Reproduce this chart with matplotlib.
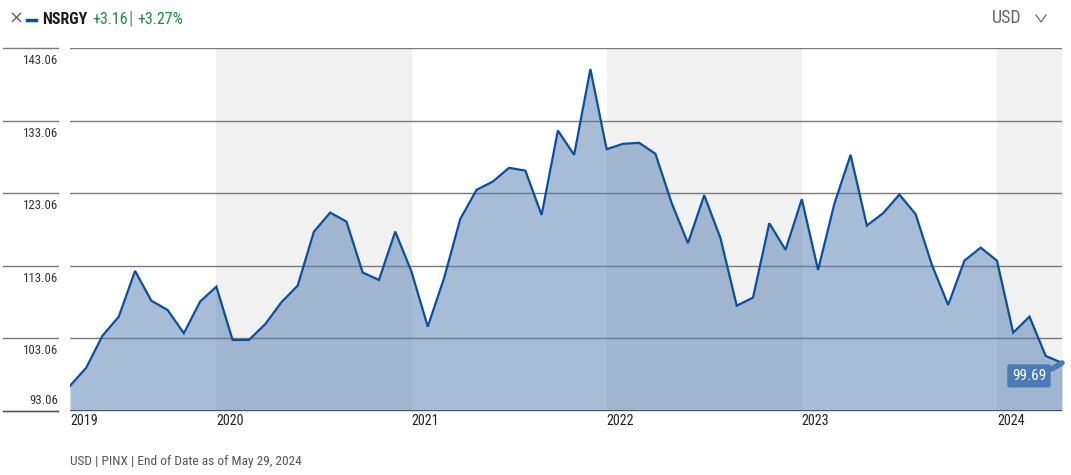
import matplotlib
matplotlib.use("Agg")
import matplotlib.pyplot as plt
from matplotlib import font_manager as fm
from matplotlib.transforms import blended_transform_factory

# ---- data (monthly, Apr 2019 .. May 2024) ----
prices = [96.53, 99.03, 103.45, 106.07, 112.37, 108.27, 106.99, 103.78, 108.14,
          110.20, 102.85, 102.85, 105.02, 108.05, 110.34, 117.79, 120.41, 119.17,
          112.14, 111.13, 117.79, 112.27, 104.69, 111.36, 119.54, 123.54, 124.69,
          126.58, 126.20, 120.09, 131.72, 128.37, 140.19, 129.15, 129.89, 130.03,
          128.51, 121.71, 116.19, 122.81, 116.88, 107.58, 108.69, 118.95, 115.27,
          122.26, 112.51, 121.61, 128.37, 118.62, 120.33, 122.90, 120.19, 113.20,
          107.68, 113.79, 115.58, 113.79, 103.86, 106.07, 100.65, 99.69]
year_labels = ["2019", "2020", "2021", "2022", "2023", "2024"]
year_start_index = [0, 9, 21, 33, 45, 57]      # month index where each year starts
y_ticks = [93.06, 103.06, 113.06, 123.06, 133.06, 143.06]
ticker = "NSRGY"
change_abs = "+3.16"
change_pct = "+3.27%"
currency = "USD"
footer = "USD | PINX | End of Date as of May 29, 2024"
last_label = "99.69"

available = {f.name for f in fm.fontManager.ttflist}
main_font = "Roboto"
for cand in ["Roboto Condensed", "Archivo Narrow", "Asap Condensed",
             "Liberation Sans Narrow", "Roboto"]:
    if cand in available:
        main_font = cand
        break
plt.rcParams["font.family"] = [main_font, "DejaVu Sans"]

W, H = 1071, 475
fig = plt.figure(figsize=(W / 100, H / 100), dpi=100)
fig.patch.set_facecolor("white")

left, right, top, bottom = 70, 1062, 48.3, 411
ax = fig.add_axes([left / W, 1 - bottom / H, (right - left) / W, (bottom - top) / H])
ax.set_facecolor("white")

x = list(range(len(prices)))
n = len(prices) - 1
ax.set_xlim(0, n)
ax.set_ylim(y_ticks[0], y_ticks[-1])

# alternating year bands
band_color = "#f1f1f1"
for i in range(1, len(year_start_index), 2):
    s = year_start_index[i]
    e = year_start_index[i + 1] if i + 1 < len(year_start_index) else n
    ax.axvspan(s, e, color=band_color, zorder=0, lw=0)

# gridlines (inside + extended to the left under labels)
grid_color = "#7a7a7a"
trans = blended_transform_factory(fig.transFigure, ax.transData)
for v in y_ticks:
    ax.axhline(v, color=grid_color, lw=1.0, zorder=1)
    ax.plot([3 / W, 58 / W], [v, v], transform=trans, color=grid_color,
            lw=1.0, clip_on=False, zorder=1)
ax.axhline(y_ticks[0], color="#3f4f60", lw=1.3, zorder=4)
ax.plot([3 / W, 58 / W], [y_ticks[0]] * 2, transform=trans, color="#555555",
        lw=1.0, clip_on=False)

# area and line
ax.fill_between(x, prices, y_ticks[0], color="#4f7bb1", alpha=0.5, lw=0, zorder=2)
ax.plot(x, prices, color="#0b4f9c", lw=1.6, zorder=3, solid_joinstyle="miter")

for s in ax.spines.values():
    s.set_visible(False)
ax.set_xticks([])
ax.set_yticks([])

# y labels
for v in y_ticks:
    if v == y_ticks[0]:
        ax.annotate(f"{v:.2f}", xy=(58 / W, v), xycoords=trans,
                    xytext=(0, 4), textcoords="offset pixels",
                    ha="right", va="bottom", fontsize=9.3, color="#333333")
    else:
        ax.annotate(f"{v:.2f}", xy=(58 / W, v), xycoords=trans,
                    xytext=(0, -6), textcoords="offset pixels",
                    ha="right", va="top", fontsize=9.3, color="#333333")

# x labels (left aligned at year start)
for lab, idx in zip(year_labels, year_start_index):
    ax.annotate(lab, xy=(idx, y_ticks[0]), xycoords="data",
                xytext=(0, -3), textcoords="offset pixels",
                ha="left", va="top", fontsize=10.2, color="#222222")

# last value label
ax.annotate(last_label, xy=(n, prices[-1]), xycoords="data",
            xytext=(-33, -13), textcoords="offset pixels",
            ha="center", va="center", fontsize=11, color="white", zorder=6,
            bbox=dict(boxstyle="round,pad=0.3,rounding_size=0.15",
                      fc="#4a7bb4", ec="none"),
            annotation_clip=False)
ax.annotate("", xy=(n, prices[-1]), xycoords="data",
            xytext=(-10, -6), textcoords="offset pixels",
            arrowprops=dict(arrowstyle="-", color="#4a7bb4", lw=4,
                            shrinkA=0, shrinkB=0),
            annotation_clip=False, zorder=5)

# header
fig.text(9 / W, 1 - 19 / H, "\u00d7", fontsize=13, color="#666666",
         va="center", ha="left", family=["DejaVu Sans"])
fig.lines.append(plt.Line2D([27 / W, 36 / W], [1 - 20 / H, 1 - 20 / H],
                            transform=fig.transFigure, color="#0b4f9c", lw=2.5))
fig.text(42 / W, 1 - 19 / H, ticker, fontsize=11.5, fontweight="bold",
         color="#1a1a1a", va="center", ha="left")
fig.text(92 / W, 1 - 19 / H, change_abs, fontsize=11.5, color="#1e8a3c",
         va="center", ha="left")
fig.text(128.5 / W, 1 - 19 / H, "|", fontsize=13, color="#777777",
         va="center", ha="left")
fig.text(137 / W, 1 - 19 / H, change_pct, fontsize=11.5, color="#1e8a3c",
         va="center", ha="left")

fig.text(992 / W, 1 - 18 / H, currency, fontsize=13, color="#666666",
         va="center", ha="left")
fig.lines.append(plt.Line2D([1036 / W, 1041 / W, 1046 / W],
                            [1 - 15 / H, 1 - 22 / H, 1 - 15 / H],
                            transform=fig.transFigure, color="#666666", lw=0.9))

# footer
fig.text(70 / W, 1 - 461 / H, footer, fontsize=9.6, color="#555555",
         va="center", ha="left")

fig.savefig("out.png", dpi=100)
